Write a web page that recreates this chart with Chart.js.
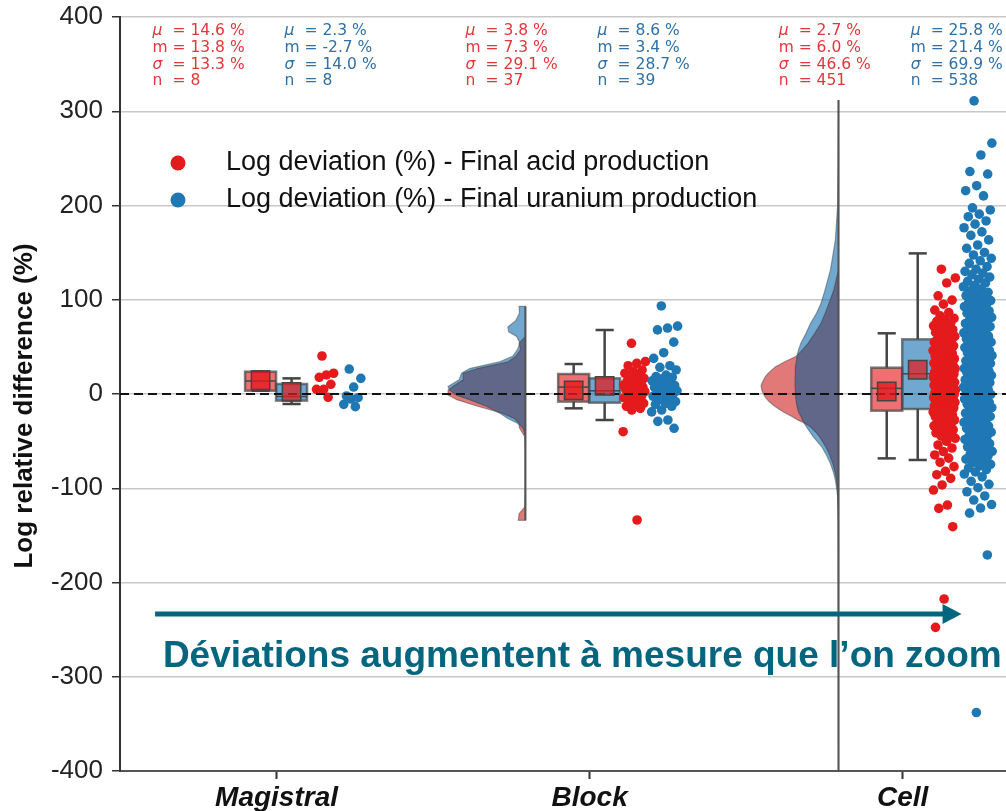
<!DOCTYPE html>
<html lang="fr">
  <head>
    <meta charset="UTF-8" />
    <title>Log relative difference</title>
    <script src="https://cdn.jsdelivr.net/npm/chart.js@4.4.0/dist/chart.umd.min.js"></script>
    <style>
      html, body { margin: 0; background: #fff; overflow: hidden; }
      #wrap { width: 1006px; height: 811px; position: relative; }
      #chart { display: block; }
    </style>
  </head>
  <body>
    <div id="wrap"><canvas id="chart"></canvas></div>

    <script>
      // Échelles de modélisation
      const categories = ["Magistral", "Block", "Cell"];
      const yTicks = [-400, -300, -200, -100, 0, 100, 200, 300, 400];

      // Statistiques affichées en haut (acide = rouge, uranium = bleu)
      const muRed = [14.6, 3.8, 2.7];
      const medRed = [13.8, 7.3, 6.0];
      const sigmaRed = [13.3, 29.1, 46.6];
      const nRed = [8, 37, 451];
      const muBlue = [2.3, 8.6, 25.8];
      const medBlue = [-2.7, 3.4, 21.4];
      const sigmaBlue = [14.0, 28.7, 69.9];
      const nBlue = [8, 39, 538];

      // Boîtes : quartiles et moustaches
      const q1Red = [3.5, -8.1, -17.7];
      const q3Red = [23.7, 21.2, 27.9];
      const lowRed = [3.5, -15.2, -68.3];
      const highRed = [23.7, 31.8, 64.4];
      const q1Blue = [-7.0, -9.2, -15.9];
      const q3Blue = [10.6, 16.6, 58.0];
      const lowBlue = [-10.6, -27.6, -70.0];
      const highBlue = [16.6, 67.9, 149.2];

      // Déviations individuelles (%)
      const magistralRed = [40.3, 22.0, 20.2, 17.7, 10.3, 5.0, 5.0, -3.5];
      const magistralBlue = [26.5, 16.6, 7.4, -2.1, -3.9, -5.3, -11.0, -13.4];
      const blockRed = [
        53.8, 34.3, 32.5, 30.0, 25.5, 23.7, 22.0, 20.2, 18.4, 16.6, 15.0, 13.0,
        11.3, 10.5, 9.5, 8.6, 7.8, 7.3, 6.0, 5.0, 4.2, 3.2, 2.5, 1.0, -1.1,
        -2.0, -2.8, -4.0, -6.0, -8.0, -9.9, -11.7, -13.0, -15.2, -17.0, -40.0,
        -133.7,
      ];
      const blockBlue = [
        93.4, 72.0, 70.0, 68.0, 55.0, 43.8, 37.8, 30.0, 28.3, 25.5, 20.0, 18.5,
        17.7, 16.0, 14.0, 12.0, 10.5, 9.0, 8.0, 7.0, 5.5, 4.0, 3.4, 2.0, 1.0,
        0.0, -1.0, -2.5, -4.0, -6.0, -8.0, -10.0, -11.0, -13.0, -17.0, -19.0,
        -27.6, -29.0, -36.4,
      ];
      const cellRed = [
        132.4, 123.1, 117.8, 104.2, 99.6, 95.3, 89.1, 86.4, 83.0,
        80.2, 78.6, 77.1, 75.4, 74.0, 72.3, 71.5, 69.8, 68.2, 66.9, 65.3, 64.1,
        62.7, 61.2, 60.4, 58.8, 57.3, 56.6, 55.0, 53.9, 52.4, 51.1, 50.3,
        49.2, 48.0, 46.9, 46.1, 44.8, 43.6, 42.9, 41.5, 40.7, 39.3, 38.6, 37.4,
        36.2, 35.5, 34.7, 33.9, 32.8, 32.1, 31.0, 30.2, 29.6, 28.9, 28.1, 27.3,
        26.8, 26.0, 25.2, 24.6, 23.9, 23.1, 22.5, 21.8, 21.0, 20.3, 19.7, 19.0,
        18.4, 17.6, 17.1, 16.3, 15.8, 15.0, 14.4, 13.7, 13.1, 12.4, 11.8, 11.2,
        10.5, 9.9, 9.3, 8.6, 8.0, 7.4, 6.9, 6.2, 5.6, 5.0, 4.3, 3.8, 3.1, 2.5,
        1.9, 1.2, 0.6, 0.1, -0.5, -1.2, -1.8, -2.4, -3.1, -3.7, -4.2, -5.0,
        -5.6, -6.1, -6.9, -7.5, -8.2, -8.8, -9.6, -10.3, -11.0, -11.7, -12.5,
        -13.2, -14.0, -14.9, -15.7, -16.6, -17.4, -18.3, -19.1, -20.2, -21.0,
        -22.1, -23.2, -24.0, -25.3, -26.4, -27.6, -28.5, -29.9, -31.2, -32.4,
        -33.8, -35.1, -36.7, -38.0, -39.6, -41.3, -43.0, -44.8, -47.0, -50.2,
        -54.1, -57.3, -61.0, -64.7, -68.0, -72.4, -77.1, -82.0, -85.6, -89.5,
        -96.5, -101.9, -117.8, -121.3, -140.8, -217.5, -247.6,
      ];
      const cellBlue = [
        311.0, 266.2, 253.6, 236.0, 233.4, 221.0, 215.7, 210.2, 197.5, 195.3,
        190.8, 188.1, 183.6, 180.2, 176.4, 172.0, 168.3, 163.5, 158.1, 154.6,
        150.2, 147.5, 144.0, 141.3, 138.6, 135.2, 132.4, 130.1, 128.3, 126.5,
        124.0, 121.8, 119.6, 117.9, 115.3, 113.8, 111.6, 109.4, 107.9, 106.1,
        104.4, 102.7, 101.2, 99.1, 97.4, 96.8, 94.9, 93.2, 92.7, 90.5, 89.8,
        88.1, 86.3, 85.7, 83.9, 82.6, 81.4, 80.8, 78.7, 77.3, 76.5, 74.8, 73.9,
        72.2, 71.6, 69.4, 68.8, 67.1, 65.5, 64.9, 63.2, 62.0, 61.4, 59.7, 58.5,
        57.9, 56.3, 55.0, 54.4, 52.8, 51.7, 50.9, 49.3, 48.6, 47.2, 46.0, 45.5,
        43.8, 42.9, 41.6, 40.8, 39.4, 38.3, 37.7, 36.1, 35.2, 34.6, 33.0, 32.4,
        31.1, 30.2, 29.5, 28.0, 27.3, 26.6, 25.2, 24.5, 23.1, 22.7, 21.4, 20.6,
        19.8, 18.5, 17.9, 16.6, 15.8, 14.9, 13.7, 12.8, 12.0, 10.9, 10.1, 9.2,
        8.0, 7.4, 6.1, 5.3, 4.6, 3.2, 2.5, 1.7, 0.4, -0.3, -1.6, -2.4, -3.3,
        -4.7, -5.2, -6.8, -7.5, -8.9, -9.6, -10.8, -12.1, -12.9, -14.4, -15.0,
        -16.7, -17.5, -18.8, -20.3, -21.1, -22.6, -23.8, -24.9, -26.2, -27.4,
        -28.7, -30.1, -31.5, -32.3, -34.0, -35.6, -36.4, -38.1, -39.7, -40.5,
        -42.3, -43.8, -45.0, -46.9, -48.2, -49.6, -51.4, -52.7, -54.5, -56.1,
        -57.3, -59.2, -60.8, -62.5, -64.0, -65.9, -67.7, -69.1, -71.0, -72.8,
        -74.6, -76.3, -78.5, -80.2, -82.7, -84.9, -87.9, -92.6, -95.8, -99.4,
        -103.7, -108.2, -112.5, -117.3, -121.0, -126.4, -170.8, -338.0,
      ];

      // Profils de densité (demi-violons), largeur relative 0..1
      const blockVioY = [
        93, 86, 78, 71, 66, 61, 54, 47, 40, 34, 27, 22, 15, 8, 4, -1, -6, -13,
        -20, -26, -31, -36, -45, -60, -80, -100, -120, -127, -134,
      ];
      const blockVioRed = [
        0, 0, 0, 0, 0, 0, 0.08, 0.06, 0.12, 0.22, 0.6, 0.78, 0.78, 0.91, 0.97,
        0.97, 0.86, 0.6, 0.3, 0.14, 0.08, 0.075, 0.01, 0.005, 0.005, 0.005,
        0.01, 0.08, 0.09,
      ];
      const blockVioBlue = [
        0.08, 0.075, 0.12, 0.22, 0.21, 0.11, 0.07, 0.1, 0.16, 0.33, 0.7, 0.8,
        0.83, 0.97, 0.95, 0.87, 0.7, 0.49, 0.33, 0.22, 0.1, 0.03, 0, 0, 0, 0, 0,
        0, 0,
      ];
      const cellVioY = [
        312, 250, 199, 163, 132, 110, 96, 85, 75, 64, 54, 47, 40, 34, 29, 22,
        18, 13, 9, 4, 0, -4, -8, -13, -19, -24, -28, -31, -35, -40, -45, -56,
        -65, -74, -84, -91, -102, -109, -130, -150, -180, -248, -300, -338, -400,
      ];
      const cellVioRed = [
        0, 0, 0, 0, 0, 0.06, 0.12, 0.17, 0.22, 0.3, 0.38, 0.45, 0.53, 0.68,
        0.79, 0.88, 0.92, 0.95, 0.97, 0.96, 0.94, 0.91, 0.87, 0.8, 0.69, 0.58,
        0.5, 0.42, 0.35, 0.29, 0.24, 0.16, 0.11, 0.07, 0.04, 0.025, 0.012, 0.008,
        0.004, 0.002, 0.001, 0, 0, 0, 0,
      ];
      const cellVioBlue = [
        0, 0.005, 0.012, 0.04, 0.1, 0.17, 0.22, 0.28, 0.35, 0.41, 0.47, 0.5,
        0.52, 0.53, 0.54, 0.54, 0.545, 0.545, 0.545, 0.54, 0.54, 0.535, 0.53,
        0.52, 0.5, 0.47, 0.45, 0.43, 0.4, 0.36, 0.32, 0.21, 0.15, 0.1, 0.06,
        0.04, 0.02, 0.012, 0.006, 0.004, 0.003, 0.002, 0.001, 0.001, 0,
      ];

      // Mise en page horizontale (unités de l'axe x, une catégorie = 1)
      const X_MIN = -0.5;
      const X_MAX = 2.33;
      const BOX_RED = -0.051;
      const BOX_BLUE = 0.048;
      const BOX_W = 0.099;
      const CAP_W = 0.058;
      const DOT_RED = 0.143;
      const DOT_BLUE = 0.24;
      const VIOLIN_OFF = -0.205;
      const VIOLIN_W = 0.255;

      const RED = "#e41a1c";
      const BLUE = "#1f78b4";
      const TEAL = "#04657f";
      const SANS = "'Liberation Sans', Arial, Helvetica, sans-serif";

      // décalage horizontal déterministe pour étaler les nuages de points
      function jitter(i) {
        return ((i * 0.6180339887 + 0.37) % 1) - 0.5;
      }
      function cloud(values, cat, center, spread) {
        return values.map((v, i) => ({ x: cat + center + jitter(i) * 2 * spread, y: v }));
      }

      const redPoints = [
        ...cloud(magistralRed, 0, DOT_RED + 0.01, 0.03),
        ...cloud(blockRed, 1, DOT_RED, 0.036),
        ...cloud(cellRed, 2, DOT_RED - 0.01, 0.036),
      ];
      const bluePoints = [
        ...cloud(magistralBlue, 0, DOT_BLUE, 0.03),
        ...cloud(blockBlue, 1, DOT_BLUE, 0.042),
        ...cloud(cellBlue, 2, DOT_BLUE, 0.046),
      ];
      const meanRed = muRed.map((v, c) => ({ x: c + BOX_RED, y: v }));
      const meanBlue = muBlue.map((v, c) => ({ x: c + BOX_BLUE, y: v }));

      const violins = [
        { cat: 1, ys: blockVioY, red: blockVioRed, blue: blockVioBlue },
        { cat: 2, ys: cellVioY, red: cellVioRed, blue: cellVioBlue },
      ];

      function violinPath(ctx, x, y, cat, ys, dens) {
        const base = cat + VIOLIN_OFF;
        ctx.beginPath();
        ctx.moveTo(x.getPixelForValue(base), y.getPixelForValue(ys[0]));
        ys.forEach((v, i) => {
          ctx.lineTo(x.getPixelForValue(base - dens[i] * VIOLIN_W), y.getPixelForValue(v));
        });
        ctx.lineTo(x.getPixelForValue(base), y.getPixelForValue(ys[ys.length - 1]));
        ctx.closePath();
      }

      function drawViolin(ctx, x, y, v) {
        const overlap = v.red.map((d, i) => Math.min(d, v.blue[i]));
        const layers = [
          [v.red, "rgba(208, 45, 45, 0.64)"],
          [v.blue, "rgba(31, 119, 180, 0.64)"],
          [overlap, "#606789"],
        ];
        layers.forEach(([dens, color]) => {
          violinPath(ctx, x, y, v.cat, v.ys, dens);
          ctx.fillStyle = color;
          ctx.fill();
        });
        [v.red, v.blue].forEach((dens) => {
          violinPath(ctx, x, y, v.cat, v.ys, dens);
          ctx.strokeStyle = "rgba(60, 60, 60, 0.45)";
          ctx.lineWidth = 1.2;
          ctx.stroke();
        });
        const bx = x.getPixelForValue(v.cat + VIOLIN_OFF);
        ctx.beginPath();
        ctx.moveTo(bx, y.getPixelForValue(v.ys[0]));
        ctx.lineTo(bx, y.getPixelForValue(v.ys[v.ys.length - 1]));
        ctx.strokeStyle = "#555";
        ctx.lineWidth = 2;
        ctx.stroke();
      }

      function segment(ctx, x1, y1, x2, y2) {
        ctx.beginPath();
        ctx.moveTo(x1, y1);
        ctx.lineTo(x2, y2);
        ctx.stroke();
      }

      function drawBox(ctx, x, y, xc, q1, med, q3, lo, hi, fill) {
        const l = x.getPixelForValue(xc - BOX_W / 2);
        const r = x.getPixelForValue(xc + BOX_W / 2);
        const xm = x.getPixelForValue(xc);
        const cl = x.getPixelForValue(xc - CAP_W / 2);
        const cr = x.getPixelForValue(xc + CAP_W / 2);
        const top = y.getPixelForValue(q3);
        const bot = y.getPixelForValue(q1);

        ctx.strokeStyle = "#444";
        ctx.lineWidth = 2.5;
        segment(ctx, xm, top, xm, y.getPixelForValue(hi));
        segment(ctx, xm, bot, xm, y.getPixelForValue(lo));
        segment(ctx, cl, y.getPixelForValue(hi), cr, y.getPixelForValue(hi));
        segment(ctx, cl, y.getPixelForValue(lo), cr, y.getPixelForValue(lo));

        ctx.fillStyle = fill;
        ctx.fillRect(l, top, r - l, bot - top);
        ctx.strokeStyle = "rgba(70, 70, 70, 0.7)";
        ctx.lineWidth = 2.5;
        ctx.strokeRect(l, top, r - l, bot - top);

        ctx.strokeStyle = "#444";
        ctx.lineWidth = 1.5;
        const ym = y.getPixelForValue(med);
        segment(ctx, l, ym, r, ym);
      }

      function fmt(v) {
        return v.toFixed(1) + " %";
      }

      // Violons, boîtes et textes dessinés avec les échelles du graphique
      const groupsPlugin = {
        id: "groups",
        beforeDatasetsDraw(chart) {
          const { ctx, scales: { x, y } } = chart;
          ctx.save();
          violins.forEach((v) => drawViolin(ctx, x, y, v));
          for (let c = 0; c < categories.length; c++) {
            drawBox(ctx, x, y, c + BOX_RED, q1Red[c], medRed[c], q3Red[c], lowRed[c], highRed[c], "rgba(228, 26, 28, 0.62)");
            drawBox(ctx, x, y, c + BOX_BLUE, q1Blue[c], medBlue[c], q3Blue[c], lowBlue[c], highBlue[c], "rgba(31, 119, 180, 0.64)");
          }
          ctx.restore();
        },
        afterDraw(chart) {
          const { ctx, chartArea, scales: { x, y } } = chart;
          ctx.save();

          // statistiques par groupe
          const rows = (mu, med, sig, n) => [
            ["\u03bc", true, fmt(mu)],
            ["m", false, fmt(med)],
            ["\u03c3", true, fmt(sig)],
            ["n", false, String(n)],
          ];
          ctx.textBaseline = "middle";
          for (let c = 0; c < categories.length; c++) {
            const px = x.getPixelForValue(c);
            const cols = [
              [px - 124, "#e3363b", rows(muRed[c], medRed[c], sigmaRed[c], nRed[c])],
              [px + 8, "#2f70a6", rows(muBlue[c], medBlue[c], sigmaBlue[c], nBlue[c])],
            ];
            cols.forEach(([cx, color, lines]) => {
              ctx.fillStyle = color;
              lines.forEach(([lab, ital, val], k) => {
                const ty = chartArea.top + 14 + k * 16.8;
                ctx.font = (ital ? "italic " : "") + "15.5px 'DejaVu Sans', sans-serif";
                ctx.fillText(lab, cx, ty);
                ctx.font = "15.5px 'DejaVu Sans', sans-serif";
                ctx.fillText("= " + val, cx + 20, ty);
              });
            });
          }

          // légende
          const legend = [
            [RED, "Log deviation (%) - Final acid production"],
            [BLUE, "Log deviation (%) - Final uranium production"],
          ];
          ctx.font = "27px " + SANS;
          legend.forEach(([color, text], k) => {
            const ly = chartArea.top + 146 + k * 37;
            ctx.fillStyle = color;
            ctx.beginPath();
            ctx.arc(chartArea.left + 58, ly, 7.5, 0, Math.PI * 2);
            ctx.fill();
            ctx.fillStyle = "#111";
            ctx.fillText(text, chartArea.left + 106, ly);
          });

          // titre de l'axe y
          ctx.save();
          ctx.translate(25, 406);
          ctx.rotate(-Math.PI / 2);
          ctx.textAlign = "center";
          ctx.font = "bold 26px " + SANS;
          ctx.fillStyle = "#111";
          ctx.fillText("Log relative difference (%)", 0, 0);
          ctx.restore();

          // flèche et message
          const ay = y.getPixelForValue(-233.4);
          const ax0 = x.getPixelForValue(-0.388);
          const ax1 = x.getPixelForValue(2.188);
          ctx.strokeStyle = TEAL;
          ctx.fillStyle = TEAL;
          ctx.lineWidth = 5;
          segment(ctx, ax0, ay, ax1 - 16, ay);
          ctx.beginPath();
          ctx.moveTo(ax1, ay);
          ctx.lineTo(ax1 - 19, ay - 10);
          ctx.lineTo(ax1 - 19, ay + 10);
          ctx.closePath();
          ctx.fill();
          ctx.font = "bold 37px " + SANS;
          ctx.textBaseline = "alphabetic";
          ctx.fillText("D\u00e9viations augmentent \u00e0 mesure que l\u2019on zoom", x.getPixelForValue(-0.363), ay + 53);

          ctx.restore();
        },
      };

      new Chart(document.getElementById("chart"), {
        type: "scatter",
        data: {
          datasets: [
            {
              label: "Moyenne - acid",
              data: meanRed,
              pointStyle: "rect",
              pointRadius: 13,
              backgroundColor: "rgba(228, 26, 28, 0.78)",
              borderColor: "#444",
              borderWidth: 1.5,
              order: 0,
            },
            {
              label: "Moyenne - uranium",
              data: meanBlue,
              pointStyle: "rect",
              pointRadius: 13,
              backgroundColor: "rgba(228, 26, 28, 0.72)",
              borderColor: "#444",
              borderWidth: 1.5,
              order: 0,
            },
            {
              label: "zero",
              data: [{ x: X_MIN, y: 0 }, { x: X_MAX, y: 0 }],
              showLine: true,
              borderColor: "#111",
              borderWidth: 2.2,
              borderDash: [9, 5],
              pointRadius: 0,
              order: 1,
            },
            {
              label: "Log deviation (%) - Final uranium production",
              data: bluePoints,
              backgroundColor: BLUE,
              pointRadius: 4.8,
              borderWidth: 0,
              order: 2,
            },
            {
              label: "Log deviation (%) - Final acid production",
              data: redPoints,
              backgroundColor: RED,
              pointRadius: 4.8,
              borderWidth: 0,
              order: 3,
            },
          ],
        },
        options: {
          responsive: true,
          maintainAspectRatio: false,
          animation: false,
          events: [],
          layout: { autoPadding: false, padding: { top: 17, right: 0, bottom: 0, left: 0 } },
          plugins: { legend: { display: false }, tooltip: { enabled: false } },
          scales: {
            x: {
              type: "linear",
              min: X_MIN,
              max: X_MAX,
              afterBuildTicks: (s) => {
                s.ticks = categories.map((_, i) => ({ value: i }));
              },
              afterFit: (s) => {
                s.height = 40;
                s.paddingLeft = 0;
                s.paddingRight = 0;
              },
              ticks: {
                callback: (v) => categories[v],
                autoSkip: false,
                maxRotation: 0,
                padding: 2,
                color: "#111",
                font: { family: SANS, size: 28, weight: "bold", style: "italic" },
              },
              grid: { drawOnChartArea: false, tickLength: 8, tickColor: "#333", tickWidth: 2 },
              border: { color: "#555", width: 2 },
            },
            y: {
              min: -400,
              max: 400,
              afterBuildTicks: (s) => {
                s.ticks = yTicks.map((v) => ({ value: v }));
              },
              afterFit: (s) => {
                s.width = 120;
                s.paddingTop = 0;
                s.paddingBottom = 0;
              },
              ticks: {
                padding: 9,
                color: "#222",
                font: { family: SANS, size: 26 },
              },
              grid: { color: "#c8c8c8", lineWidth: 1.5, tickLength: 8, tickColor: "#333", tickWidth: 1.5 },
              border: { color: "#333", width: 2 },
            },
          },
        },
        plugins: [groupsPlugin],
      });
    </script>
  </body>
</html>
